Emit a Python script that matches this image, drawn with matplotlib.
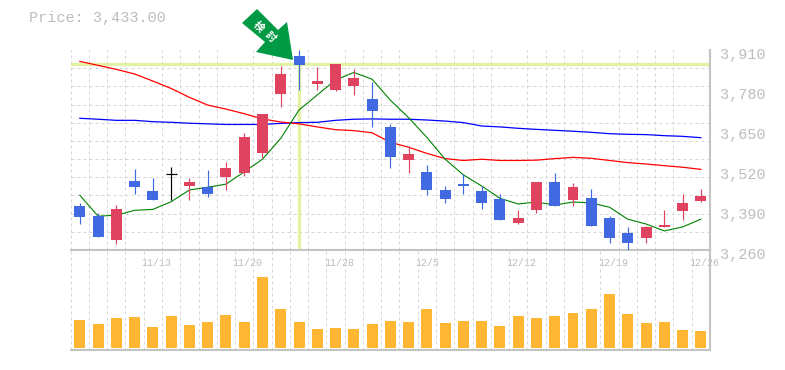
import matplotlib
matplotlib.use("Agg")
import matplotlib.pyplot as plt
from matplotlib.patches import Polygon
from matplotlib.transforms import ScaledTranslation

W, H = 785, 370
plt.rcParams['font.family'] = ['Liberation Mono', 'Noto Sans CJK JP', 'DejaVu Sans']

opens  = [3403,3370.5,3292.5,3484,3452,3507,3468,3465,3497,3510,3574,3767,3890.5,3799.5,3780,3793,3751,3660,3552.5,3513.5,3455,3474.5,3452,3426,3348,3390,3481,3422.5,3429,3364,3315,3299,3335,3387,3419]
closes = [3367,3302,3393,3465,3422.5,3507,3481,3442,3526.5,3627,3702,3832,3861,3809,3864.5,3819,3712,3562,3572,3455,3426,3468,3413,3357.5,3364,3481,3403,3465,3338,3299,3283,3335,3341,3413,3435.5]
highs  = [3413,3380,3406,3523,3494,3530,3494,3520,3546,3640,3702,3858,3910,3855,3864.5,3848,3806,3669.5,3598,3536,3468,3507,3468,3442,3390,3481,3510,3478,3458,3370.5,3335,3338,3390,3442,3458]
lows   = [3344.5,3302,3279.5,3442,3422.5,3422.5,3422.5,3432,3455,3500.5,3559,3725,3780,3780,3777,3764,3660,3526,3510,3439,3413,3442,3393,3357.5,3344.5,3380,3403,3403,3338,3283,3260,3283,3335,3357.5,3416]
ma_short = [3438,3370,3373,3389,3392,3417,3455,3464,3474,3514,3555,3623,3715,3764,3812.5,3837,3815,3747,3690,3626,3555,3504,3468,3428,3409.5,3416,3406,3416,3413,3399,3360,3344.5,3322,3335,3360]
ma_mid = [3873,3860,3847,3832,3809,3785,3756,3731,3718,3703,3686,3676,3670,3660,3651,3648,3641,3610,3594,3574,3557,3551,3555,3551,3551,3552,3557,3561,3558,3551,3544,3539.5,3534,3529,3522]
ma_long = [3688,3685,3681.4,3681.4,3677,3675,3672,3670,3668,3668,3668,3671.5,3674,3675,3681.4,3685,3686,3685,3685,3682.5,3679,3674,3663,3660,3655.5,3652,3649,3646,3642.5,3638,3636,3635,3631.6,3629.4,3625]
volumes = [28,24,30,31,21,32,23,26,33,26,71,39,26,19,20,19,24,27,26,39,25,27,27,22,32,30,32,35,39,54,34,25,26,18,17]
date_labels = ['11/13','11/20','11/28','12/5','12/12','12/19','12/26']
date_index = [4,9,14,19,24,29,34]
price_labels = [3260,3390,3520,3650,3780,3910]
signal_index = 12
signal_price = 3863.5
title = 'Price: 3,433.00'
badge = ['検', '討']

RED, BLUE, BLACK = '#E0435F', '#4169E1', '#000000'
GRID, FRAME, TXT = '#d6d6d6', '#c4c4c4', '#bdbdbd'
HL = '#E2F2A4'
DASH = (0, (3, 3))
GLW = 0.72

fig = plt.figure(figsize=(W/100, H/100), dpi=100)
def box(l, t, r, b):
    return [l/W, 1-b/H, (r-l)/W, (b-t)/H]

ax = fig.add_axes(box(70.7, 50, 710, 250))
vx = fig.add_axes(box(70.7, 250, 710, 350))
n = len(closes)
xs = list(range(n))
for a in (ax, vx):
    a.set_xlim(-0.5, n-0.5)
    a.set_xticks([i-0.5 for i in xs[1:]], minor=True)
    a.tick_params(which='both', length=0)
    a.grid(which='minor', axis='x', color=GRID, ls=DASH, lw=GLW)
    a.set_axisbelow(True)
    a.patch.set_alpha(0)
    for s in ('left', 'top'):
        a.spines[s].set_visible(False)
    a.spines['bottom'].set_color(FRAME); a.spines['bottom'].set_linewidth(1.5)
    a.spines['right'].set_color(FRAME); a.spines['right'].set_linewidth(1.5)

ax.set_ylim(3260, 3910)
rows = 11
ax.set_yticks([3260+650*i/rows for i in range(1, rows+1)], minor=True)
ax.grid(which='minor', axis='y', color=GRID, ls=DASH, lw=GLW)
ax.plot([-0.5, -0.5], [3260, 3910], color=GRID, ls=DASH, lw=GLW, zorder=1, clip_on=False)
vx.plot([-0.5, -0.5], [-2, 98], color=GRID, ls=DASH, lw=GLW, zorder=1, clip_on=False)

ax.set_yticks(price_labels)
ax.yaxis.tick_right()
ax.set_yticklabels([f'{p:,}' for p in price_labels], fontsize=10.9, color=TXT)
ax.tick_params(axis='y', which='major', pad=7, length=0)
shift = ScaledTranslation(0, -3/100, fig.dpi_scale_trans)
for t in ax.get_yticklabels():
    t.set_transform(t.get_transform() + shift)

ax.set_xticks([i-0.5 for i in date_index])
ax.set_xticklabels(date_labels, fontsize=7.2, color=TXT, ha='left')
ax.tick_params(axis='x', which='major', pad=5.5, length=0)
xshift = ScaledTranslation(-2.5/100, 0, fig.dpi_scale_trans)
for t in ax.get_xticklabels():
    t.set_transform(t.get_transform() + xshift)
vx.set_xticks([]); vx.set_yticks([])

ax.axhline(signal_price, color=HL, lw=2.4, zorder=1.5)
ax.plot([signal_index, signal_index], [3264, signal_price], color=HL, lw=2.4, zorder=1.5, solid_capstyle='butt')

ax.plot(xs, ma_long, color='#0000ff', lw=0.9, zorder=2)
ax.plot(xs, ma_mid, color='#ff0000', lw=0.9, zorder=2)
ax.plot(xs, ma_short, color='#008000', lw=0.8, zorder=2)

for i in xs:
    o, c, h, l = opens[i], closes[i], highs[i], lows[i]
    col = RED if c > o else BLUE if c < o else BLACK
    ax.plot([i, i], [l, h], color=col, lw=0.85, zorder=3, solid_capstyle='butt')
    if c == o:
        ax.plot([i-0.3, i+0.3], [c, c], color=col, lw=0.85, zorder=3, solid_capstyle='butt')
    else:
        ax.bar(i, abs(c-o), bottom=min(o, c), width=0.6, color=col, zorder=3, linewidth=0)

vx.set_ylim(-2, 98)
vx.bar(xs, volumes, width=0.6, color='#FFB733', linewidth=0, zorder=3)

fig.text(29/W, 1-18/H, title, fontsize=10.9, color=TXT, va='center', ha='left')

arrow_px = [(242,23),(257,9),(278,30),(287,22),(293,60),(256,52),(265,42)]
fig.add_artist(Polygon([(x/W, 1-y/H) for x, y in arrow_px], closed=True, transform=fig.transFigure, facecolor='#009944', edgecolor='none', zorder=5))
for ch, (px, py) in zip(badge, [(258, 27), (270, 37)]):
    fig.text(px/W, 1-py/H, ch, fontsize=7.5, color='white', rotation=-45, rotation_mode='anchor', ha='center', va='center', zorder=6, weight='bold')

fig.savefig('out.png', dpi=100)
